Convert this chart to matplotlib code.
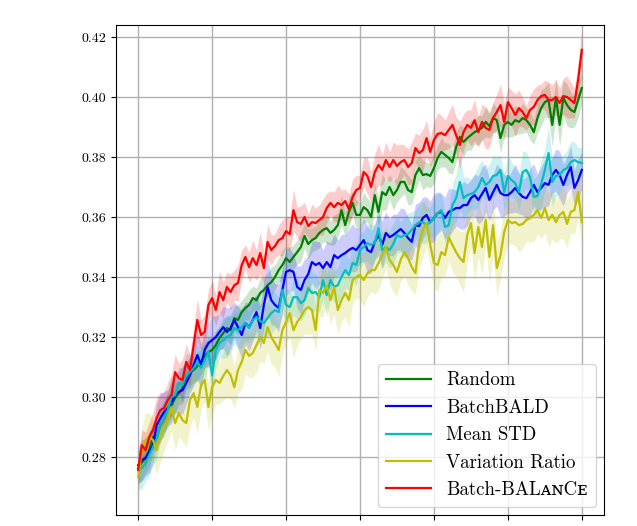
import numpy as np
import matplotlib
matplotlib.use("Agg")
import matplotlib.pyplot as plt
from matplotlib.ticker import FormatStrFormatter

plt.rcParams['font.family'] = ['cmr10', 'DejaVu Serif']
plt.rcParams['mathtext.fontset'] = 'cm'
plt.rcParams['axes.formatter.use_mathtext'] = True

# acquisition steps (tick labels not shown in the reference)
steps = np.arange(121)
xticks = [0, 20, 40, 60, 80, 100, 120]
yticks = [0.28, 0.30, 0.32, 0.34, 0.36, 0.38, 0.40, 0.42]

random_acc = [
    0.2763, 0.2783, 0.2797, 0.2823, 0.2867, 0.2863, 0.2907, 0.2930, 0.2963, 0.2973,
    0.2997, 0.3013, 0.3030, 0.3067, 0.3083, 0.3090, 0.3103, 0.3117, 0.3137, 0.3150,
    0.3157, 0.3173, 0.3197, 0.3213, 0.3230, 0.3223, 0.3263, 0.3257, 0.3283, 0.3297,
    0.3307, 0.3330, 0.3323, 0.3347, 0.3357, 0.3373, 0.3383, 0.3400, 0.3423, 0.3440,
    0.3463, 0.3450, 0.3467, 0.3483, 0.3500, 0.3537, 0.3510, 0.3523, 0.3530, 0.3547,
    0.3557, 0.3563, 0.3547, 0.3557, 0.3573, 0.3623, 0.3573, 0.3617, 0.3647, 0.3607,
    0.3607, 0.3633, 0.3623, 0.3600, 0.3673, 0.3617, 0.3683, 0.3673, 0.3700, 0.3673,
    0.3690, 0.3717, 0.3717, 0.3690, 0.3683, 0.3740, 0.3763, 0.3740, 0.3743, 0.3737,
    0.3763, 0.3797, 0.3817, 0.3807, 0.3797, 0.3783, 0.3833, 0.3867, 0.3850, 0.3863,
    0.3873, 0.3883, 0.3890, 0.3897, 0.3917, 0.3903, 0.3930, 0.3923, 0.3863, 0.3907,
    0.3917, 0.3907, 0.3923, 0.3917, 0.3930, 0.3923, 0.3907, 0.3883, 0.3930, 0.3963,
    0.3983, 0.3990, 0.3907, 0.3997, 0.3907, 0.3997, 0.3973, 0.3957, 0.3950, 0.3990,
    0.4030]

batchbald_acc = [
    0.2773, 0.2790, 0.2797, 0.2817, 0.2840, 0.2907, 0.2930, 0.2950, 0.2963, 0.2983,
    0.3007, 0.3017, 0.3023, 0.3047, 0.3073, 0.3107, 0.3140, 0.3107, 0.3157, 0.3180,
    0.3190, 0.3200, 0.3217, 0.3233, 0.3217, 0.3230, 0.3257, 0.3233, 0.3207, 0.3247,
    0.3233, 0.3257, 0.3283, 0.3230, 0.3307, 0.3367, 0.3323, 0.3307, 0.3297, 0.3357,
    0.3417, 0.3423, 0.3417, 0.3367, 0.3357, 0.3390, 0.3410, 0.3450, 0.3440, 0.3447,
    0.3430, 0.3450, 0.3433, 0.3473, 0.3463, 0.3473, 0.3480, 0.3490, 0.3497, 0.3490,
    0.3507, 0.3523, 0.3490, 0.3483, 0.3517, 0.3540, 0.3507, 0.3547, 0.3533, 0.3540,
    0.3550, 0.3560, 0.3547, 0.3530, 0.3517, 0.3573, 0.3570, 0.3597, 0.3607, 0.3583,
    0.3597, 0.3613, 0.3617, 0.3597, 0.3617, 0.3623, 0.3630, 0.3630, 0.3640, 0.3640,
    0.3663, 0.3673, 0.3657, 0.3677, 0.3697, 0.3657, 0.3683, 0.3707, 0.3680, 0.3673,
    0.3673, 0.3683, 0.3697, 0.3680, 0.3667, 0.3663, 0.3683, 0.3707, 0.3683, 0.3697,
    0.3713, 0.3707, 0.3740, 0.3757, 0.3740, 0.3707, 0.3740, 0.3767, 0.3697, 0.3723,
    0.3757]

meanstd_acc = [
    0.2757, 0.2763, 0.2780, 0.2807, 0.2833, 0.2863, 0.2907, 0.2933, 0.2957, 0.3000,
    0.3007, 0.3047, 0.3040, 0.3073, 0.3083, 0.3097, 0.3117, 0.3097, 0.3123, 0.3150,
    0.3073, 0.3157, 0.3180, 0.3190, 0.3200, 0.3207, 0.3230, 0.3223, 0.3233, 0.3247,
    0.3230, 0.3257, 0.3267, 0.3253, 0.3247, 0.3263, 0.3280, 0.3290, 0.3283, 0.3357,
    0.3307, 0.3300, 0.3333, 0.3333, 0.3313, 0.3323, 0.3363, 0.3347, 0.3350, 0.3333,
    0.3390, 0.3340, 0.3390, 0.3367, 0.3373, 0.3400, 0.3423, 0.3407, 0.3447, 0.3440,
    0.3490, 0.3500, 0.3513, 0.3507, 0.3513, 0.3563, 0.3490, 0.3500, 0.3490, 0.3510,
    0.3540, 0.3533, 0.3540, 0.3543, 0.3557, 0.3573, 0.3583, 0.3583, 0.3573, 0.3583,
    0.3597, 0.3613, 0.3623, 0.3567, 0.3573, 0.3640, 0.3663, 0.3717, 0.3663, 0.3673,
    0.3677, 0.3683, 0.3700, 0.3730, 0.3707, 0.3717, 0.3737, 0.3740, 0.3757, 0.3683,
    0.3737, 0.3723, 0.3713, 0.3683, 0.3750, 0.3757, 0.3733, 0.3667, 0.3670, 0.3710,
    0.3757, 0.3813, 0.3717, 0.3737, 0.3740, 0.3757, 0.3763, 0.3783, 0.3790, 0.3783,
    0.3780]

varratio_acc = [
    0.2733, 0.2823, 0.2857, 0.2867, 0.2857, 0.2823, 0.2873, 0.2900, 0.2923, 0.2967,
    0.2913, 0.2947, 0.2923, 0.2913, 0.2990, 0.3013, 0.2967, 0.3040, 0.3057, 0.2967,
    0.3033, 0.3057, 0.3047, 0.3070, 0.3090, 0.3073, 0.3033, 0.3090, 0.3117, 0.3157,
    0.3137, 0.3147, 0.3173, 0.3200, 0.3180, 0.3233, 0.3200, 0.3180, 0.3157, 0.3223,
    0.3250, 0.3280, 0.3223, 0.3250, 0.3267, 0.3290, 0.3300, 0.3290, 0.3223, 0.3357,
    0.3347, 0.3373, 0.3323, 0.3367, 0.3290, 0.3323, 0.3347, 0.3323, 0.3390, 0.3400,
    0.3407, 0.3390, 0.3413, 0.3423, 0.3423, 0.3447, 0.3473, 0.3500, 0.3457, 0.3440,
    0.3417, 0.3457, 0.3483, 0.3463, 0.3433, 0.3413, 0.3513, 0.3557, 0.3580, 0.3507,
    0.3447, 0.3440, 0.3483, 0.3473, 0.3533, 0.3507, 0.3483, 0.3463, 0.3450, 0.3540,
    0.3580, 0.3480, 0.3567, 0.3500, 0.3590, 0.3467, 0.3573, 0.3430, 0.3473, 0.3550,
    0.3590, 0.3580, 0.3583, 0.3573, 0.3577, 0.3590, 0.3597, 0.3607, 0.3623, 0.3597,
    0.3630, 0.3590, 0.3607, 0.3583, 0.3607, 0.3617, 0.3577, 0.3617, 0.3623, 0.3683,
    0.3583]

balance_acc = [
    0.2757, 0.2840, 0.2823, 0.2867, 0.2890, 0.2930, 0.2957, 0.2963, 0.2990, 0.3007,
    0.3083, 0.3063, 0.3057, 0.3117, 0.3090, 0.3173, 0.3257, 0.3207, 0.3217, 0.3307,
    0.3330, 0.3290, 0.3350, 0.3323, 0.3367, 0.3350, 0.3373, 0.3380, 0.3440, 0.3467,
    0.3433, 0.3463, 0.3440, 0.3480, 0.3430, 0.3517, 0.3490, 0.3503, 0.3523, 0.3530,
    0.3553, 0.3543, 0.3623, 0.3583, 0.3577, 0.3600, 0.3570, 0.3583, 0.3580, 0.3590,
    0.3600, 0.3630, 0.3647, 0.3633, 0.3647, 0.3640, 0.3653, 0.3627, 0.3667, 0.3690,
    0.3697, 0.3750, 0.3737, 0.3700, 0.3750, 0.3773, 0.3757, 0.3790, 0.3767, 0.3790,
    0.3770, 0.3783, 0.3790, 0.3767, 0.3780, 0.3830, 0.3813, 0.3823, 0.3863, 0.3817,
    0.3857, 0.3877, 0.3880, 0.3873, 0.3890, 0.3907, 0.3873, 0.3840, 0.3883, 0.3907,
    0.3897, 0.3923, 0.3883, 0.3917, 0.3897, 0.3890, 0.3930, 0.3950, 0.3973, 0.3917,
    0.3983, 0.3963, 0.3940, 0.3963, 0.3950, 0.3930, 0.3957, 0.3967, 0.3990, 0.4003,
    0.4007, 0.3990, 0.3990, 0.4000, 0.3980, 0.4003, 0.4000, 0.3990, 0.3980, 0.4057,
    0.4157]

# spread over repeats, in units of 1e-3
random_std = [
    5, 6, 5, 6, 5, 4, 5, 6, 5, 4, 5, 4, 5, 4, 5, 4, 5, 4, 4, 5,
    4, 5, 4, 5, 4, 5, 4, 5, 4, 4, 5, 4, 4, 5, 4, 4, 5, 4, 4, 5,
    4, 5, 4, 4, 5, 4, 5, 4, 4, 5, 4, 5, 4, 5, 4, 5, 4, 5, 4, 5,
    4, 5, 4, 5, 4, 5, 6, 5, 4, 5, 4, 5, 4, 5, 4, 5, 4, 5, 4, 4,
    5, 4, 5, 4, 5, 4, 5, 4, 5, 4, 5, 4, 5, 4, 5, 4, 5, 4, 5, 4,
    5, 4, 5, 4, 5, 4, 5, 4, 5, 6, 5, 6, 7, 6, 7, 6, 7, 6, 5, 6,
    5]

batchbald_std = [
    6, 7, 6, 7, 6, 7, 8, 7, 6, 7, 6, 7, 8, 7, 6, 7, 8, 7, 6, 7,
    8, 7, 6, 7, 8, 7, 6, 7, 8, 7, 8, 7, 6, 7, 8, 9, 8, 7, 8, 7,
    8, 7, 6, 7, 8, 7, 6, 7, 8, 7, 6, 7, 8, 7, 6, 7, 6, 7, 8, 7,
    6, 7, 8, 7, 6, 7, 8, 7, 6, 7, 6, 7, 8, 7, 6, 7, 8, 7, 6, 7,
    8, 7, 6, 7, 8, 7, 6, 7, 8, 7, 6, 7, 8, 9, 8, 7, 6, 7, 8, 7,
    6, 7, 8, 7, 6, 7, 8, 7, 6, 7, 8, 7, 6, 7, 8, 7, 6, 7, 6, 7,
    6]

meanstd_std = [
    6, 7, 6, 7, 6, 7, 6, 5, 6, 7, 6, 5, 6, 7, 6, 5, 6, 7, 6, 5,
    7, 6, 5, 6, 7, 6, 5, 6, 7, 6, 5, 6, 7, 6, 5, 6, 7, 6, 5, 8,
    6, 5, 6, 7, 6, 5, 6, 7, 6, 5, 6, 7, 6, 5, 6, 7, 6, 5, 6, 7,
    6, 5, 6, 7, 6, 7, 6, 5, 6, 7, 6, 5, 6, 7, 6, 5, 6, 7, 6, 5,
    6, 7, 6, 5, 6, 7, 8, 9, 7, 6, 5, 6, 7, 6, 5, 6, 7, 6, 5, 6,
    7, 6, 5, 6, 7, 6, 5, 6, 7, 8, 7, 9, 8, 7, 6, 5, 6, 7, 6, 5,
    5]

varratio_std = [
    7, 8, 9, 8, 7, 8, 9, 8, 7, 8, 9, 8, 7, 8, 9, 8, 9, 8, 7, 8,
    9, 8, 7, 8, 9, 8, 7, 8, 9, 8, 7, 8, 9, 8, 7, 8, 9, 8, 9, 8,
    7, 8, 9, 8, 7, 8, 9, 8, 7, 9, 8, 7, 8, 9, 8, 7, 8, 9, 8, 7,
    8, 9, 8, 7, 8, 9, 8, 7, 8, 9, 8, 7, 8, 9, 8, 7, 8, 9, 8, 7,
    8, 9, 8, 7, 8, 9, 8, 9, 10, 9, 8, 9, 10, 9, 8, 9, 10, 9, 8, 9,
    8, 7, 8, 9, 8, 7, 8, 9, 8, 7, 8, 9, 8, 7, 8, 9, 8, 7, 8, 9,
    8]

balance_std = [
    4, 5, 6, 5, 6, 7, 6, 5, 6, 7, 6, 5, 7, 6, 5, 6, 7, 5, 6, 5,
    6, 5, 7, 6, 5, 6, 5, 6, 5, 4, 5, 6, 5, 7, 5, 6, 5, 4, 5, 6,
    5, 6, 7, 5, 6, 5, 4, 6, 5, 5, 6, 5, 4, 5, 6, 5, 4, 5, 6, 5,
    4, 5, 6, 5, 6, 7, 5, 6, 5, 6, 7, 6, 5, 6, 7, 5, 6, 7, 6, 5,
    6, 7, 6, 5, 6, 7, 6, 8, 6, 5, 6, 7, 5, 6, 7, 6, 5, 6, 7, 6,
    5, 6, 7, 6, 5, 4, 5, 6, 5, 4, 5, 6, 5, 6, 5, 6, 7, 6, 5, 6,
    7]

labels = ['Random', 'BatchBALD', 'Mean STD', 'Variation Ratio',
          'Batch-BAL\u1d00\u0274C\u1d07']
colors = ['g', 'b', 'c', 'y', 'r']
means = [random_acc, batchbald_acc, meanstd_acc, varratio_acc, balance_acc]
stds = [random_std, batchbald_std, meanstd_std, varratio_std, balance_std]

fig = plt.figure(figsize=(6.37, 5.26), dpi=100)
ax = fig.add_axes([0.1821, 0.0209, 0.7661, 0.9316])

for m, s, c, lab in zip(means, stds, colors, labels):
    m = np.array(m)
    s = np.array(s) * 1e-3
    ax.plot(steps, m, color=c, lw=1.6, label=lab)
    ax.fill_between(steps, m - s, m + s, color=c, alpha=0.2, lw=0)

ax.set_xticks(xticks)
ax.set_xticklabels([''] * len(xticks))
ax.set_yticks(yticks)
ax.yaxis.set_major_formatter(FormatStrFormatter('%.2f'))
ax.tick_params(labelsize=10)
ax.set_xlim(-6, 126)
ax.set_ylim(0.2607, 0.4240)
ax.grid(True, color='#b0b0b0', lw=1.0)
ax.set_axisbelow(True)

ax.legend(loc='lower right', fontsize=13.6, handlelength=2.4,
          borderaxespad=0.45)

fig.savefig('out.png', dpi=100)
